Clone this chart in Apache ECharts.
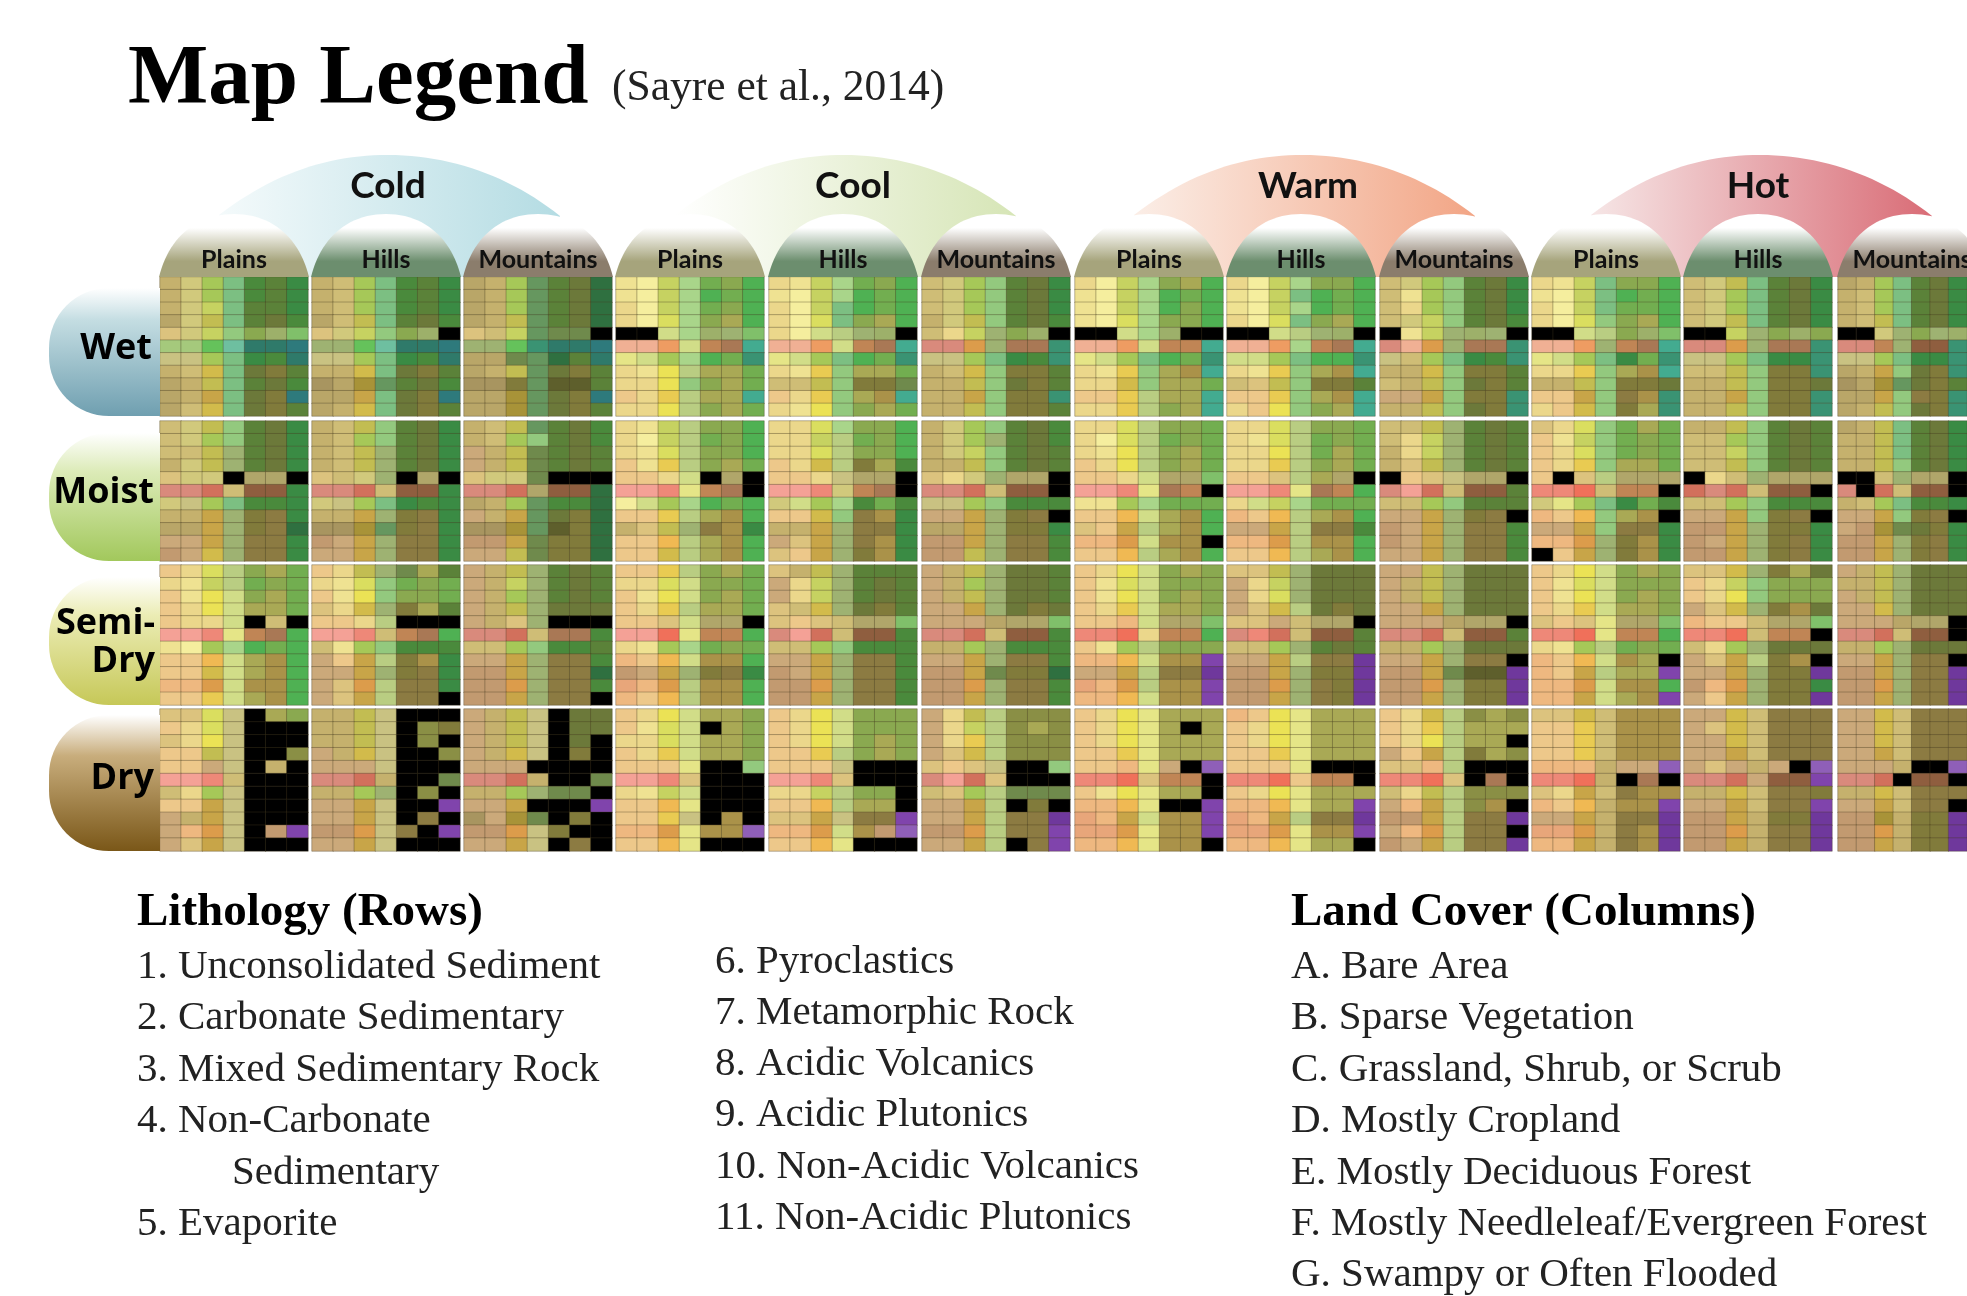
<!DOCTYPE html>
<html lang="en">

<head>
    <meta charset="UTF-8">
    <title>Map Legend</title>
    <style>
        html,
        body {
            margin: 0;
            width: 100%;
            height: 100%;
            background: #fff;
            overflow: hidden;
        }

        #main {
            width: 1967px;
            height: 1296px;
            /* the reference is a soft, upscaled picture */
            filter: blur(0.5px);
        }
    </style>
</head>

<body>
    <div id="main"></div>
    <script src="https://cdn.jsdelivr.net/npm/echarts@6/dist/echarts.min.js"></script>
    <script>
        // axes of the matrix
        const moistureNames = ['Wet', 'Moist', 'Semi-Dry', 'Dry']
        const temperatureNames = ['Cold', 'Cool', 'Warm', 'Hot']
        const landformNames = ['Plains', 'Hills', 'Mountains']
        const lithologyRows = ['1', '2', '3', '4', '5', '6', '7', '8', '9', '10', '11']
        const landCoverCols = ['A', 'B', 'C', 'D', 'E', 'F', 'G']

        // every cell is a colour class, one character each, one string per lithology row
        const wetCells = [
            ['INYhpqs', 'INYhpqs', 'INXhqqs', 'JNZhqrp', 'GNXiv9*', '==~^%%2', 'ooYhsp%', 'IHahrxq', 'JIZhqrp', 'JIdhrx2', 'JHahrxq'],
            ['IHYhpqs', 'IHYhpqs', 'IHYhpqs', 'JHZhqrp', 'GNXiv9#', 'nn~^%%2', 'ooYhsp%', 'IIahrxq', 'KJemqrp', 'JJdhrx2', 'JIahrxq'],
            ['JIYmqr+', 'JIYmqr+', 'JIYmqr+', 'JIZmqr+', 'GHXm!!#', 'nn~0%%2', 'JJ!m+q%', 'JIZmrxq', 'KKxm--q', 'JJemrx2', 'JJemrxq'],
            ['BAXguvt', 'BAXgtut', 'CAXguvt', 'CAWgvwt', '##kg9n*', 'TTUk781', 'lkYgtu0', 'CBVjwwu', 'CCVivwu', 'DCbjww1', 'CCVjvwu'],
            ['CBXguvt', 'BAXgtut', 'CAXhtut', 'CAWhvwt', 'CAkjn9#', 'TTUk781', 'lkYhtu0', 'CBbiwwu', 'HHZixx!', 'DCbiwz1', 'CBVivwu'],
            ['HNYiqrs', 'HNYiqrs', 'HNYiqrs', 'INZiqrp', 'HCXnv9#', 'RRfn880', 'ooYhsp0', 'IHaixxq', 'IIZirxq', 'IIdixx0', 'IIZixxq'],
            ['CAXgvwt', 'BAXgtut', 'BAXgtvt', 'BAWgvvt', '##kg9##', 'TTUk771', 'lkYhtu0', 'CBbiwz1', 'CCaiwwu', 'DDbjww1', 'CCbjvw1'],
            ['CAXgvvt', 'BAXhtut', 'BAXgtut', 'CAWhvwt', '##kjn9#', 'TTUg781', 'kkYhtt0', 'CBbiwz1', 'HGZixxq', 'DDbiwz1', 'CDVivw1'],
            ['HNYiqrs', 'HBYiqrs', 'HCYiqrs', 'HNXiqrp', '#BXn9n#', 'RTfn880', 'oHYhsp0', 'IIaixxq', 'HIZirxq', 'LLdixx0', 'IIZirx0'],
            ['CBXhvvt', 'BAXhtut', 'CAXhuut', 'CAWivwt', '##kjv9*', 'TTUn781', 'lkYhsu0', 'CCbiwz1', 'IIZixxr', 'DDdiyz0', 'CDaixw0'],
            ['HNZhqrs', 'HNYhqrs', 'HNYhqrs', 'HNZhqrs', '##Xnv9v', 'RRfn880', 'ooYhss0', 'HHZixx0', 'IIZixxr', 'IIdixx0', 'IIZixx0'],
            ['JIYhqrs', 'IHYhqrs', 'IHYhqrs', 'IHZhqrs', '##Nnvn9', 'RR7n660', 'ooYhss0', 'JIdirx0', 'KJemrxq', 'JJdiyx0', 'JIZirx0']
        ]
        const moistCells = [
            ['HNZiqrs', 'HNYiqrs', 'HHZnqrs', 'INZnqrs', 'GNN#55#', 'RRSH66s', 'NoYhpps', 'IIdnxys', 'JJdnxy+', 'LLdnyys', 'MLanyys'],
            ['IHZiqrs', 'IHYiqrs', 'IHZnqrs', 'IHZnqrs', 'GHNn#5#', 'RRSH66s', 'NoYhsps', 'IIdnxys', 'KKemxys', 'MLdnyys', 'LLdnyys'],
            ['IHZmqrp', 'IHYiqrp', 'LIZ!qrq', 'LIZ!qrq', 'GNN!###', 'RRS566+', 'JIYmpp+', 'LIdmrx+', 'KKem-x+', 'MMd!xx+', 'LLZ!xx+'],
            ['CBXjvvt', 'CAXjuvt', 'CBWjvvt', 'DBbjvwu', 'DDCk#5#', 'OOPl78#', 'AkYgtut', 'DDbjwzt', 'IGZnyzs', 'DDcjwzt', 'DDajwzt'],
            ['CCWgvvt', 'CCXjuvt', 'CCWjvvt', 'DCajxwp', 'DDCo55#', 'OOPN78#', 'NkYgpup', 'DDaiyzs', 'IIdnyys', 'LGdnyzs', 'GDdnxzs'],
            ['INYiqrp', 'INYnqrp', 'INXiqrq', 'IIZiqrq', 'GCNn55#', 'RRSH66#', 'ooYippp', 'LLdnxy#', 'JJdnxxs', 'MMdnyyp', 'MMZnyyp'],
            ['CCWjvvu', 'CAWjuvu', 'CBVjvwu', 'DCVjvwu', 'DDCk55*', 'OOPl87#', 'BBYguuu', 'DDckwzt', 'GDdjwzt', 'EEfkzz#', 'DDcjwzt'],
            ['CCWjvvu', 'CBWjuvu', 'CCVjuwu', 'CCbjvwu', 'DDGjw5#', 'OOPl87t', 'CkXguuu', 'EDcjwzt', 'LLdjyyp', 'EEfjzzt', 'DDcjwzt'],
            ['HHZnqrq', 'HCXnqrq', 'ICXnqrq', 'IGZnqrq', '#DGo55#', 'ROSH66q', 'HHYiqqq', 'LLdnxy#', 'MLdnyyp', 'MLdnyyp', 'LLdnyyp'],
            ['GCWiuwu', 'DBXiuvu', 'DCWiuvu', 'DCbiwwu', 'D#Gj555', 'PPQH77#', 'NlYhsup', 'EDciwz#', 'LLdiyys', 'EEfnxzs', '#Ddnxzs'],
            ['IIZiqrq', 'HHYiqrq', 'HHXiqrq', 'HHZiqrq', '#CHn555', 'SRSH66#', 'HHYippp', 'LLdixy#', 'MMdnxxs', 'MLdnxys', 'MMdnxys'],
            ['JIZhqrs', 'IIZhqrs', 'IIZhqrs', 'IIZiqrs', '##Hn55#', 'R#SH66#', 'IHYhpps', 'LLdixy#', 'LMe!rxs', 'MMdnxys', 'MMdnxys']
        ]
        const semiDryCells = [
            ['DCWjvwu', 'CBXjuvu', 'DBVkvwu', 'DCVkwwu', 'DCCk#H#', 'OOPl78t', 'BAYgtut', 'DDckwzt', 'DDakwzt', 'EEfkzzt', 'DDbkwzt'],
            ['DCZn!wq', 'CBWiuvu', 'DBVivvu', 'GCanxwq', 'DDCj###', 'OOPH78t', 'HBYippp', 'LDdjxzs', 'LLdnxys', 'LGfjyys', 'LGdjyy#'],
            ['LIZnqrq', 'LIXnqrq', 'LIYnqrq', 'LIZnrrr', 'LIGn###', 'RRSH88p', 'HHYippq', 'LLdnyyp', 'MMdnyy+', 'MMfnyyp', 'MMdnyy#'],
            ['DDbjvwu', 'CCWkvvu', 'DBVkvwu', 'DCbjwwu', 'DDGk55#', 'OOQl77t', 'CBYguvu', 'EDckzzt', 'MLdnxys', 'FEfjzzt', 'EDcjzzt'],
            ['GIZnqqq', 'LCXnqrq', 'LCXnqrq', 'GHanrxq', 'GDGH55*', 'ROSH66p', 'HHYippp', 'LLdnyyp', 'MLdnyyp', 'MMfnyyp', 'MMdnyyp'],
            ['LIZnrrq', 'LIYnrrq', 'LIZnrrq', 'LLdnrxr', 'LLLJ55*', 'RRSH66p', 'IIYnppp', 'LLdnyyp', 'MMd!xx+', 'MMfnyyp', 'MMdnyyp'],
            ['DCVkvwv', 'DBWkvvv', 'DBVkvwv', 'DCbkwwv', 'DDEk55*', 'PPQC77t', 'DBYjvvv', 'EEckzz&', 'LLdjyy3', 'FEfjzz&', 'EEckzz&'],
            ['GGZnrrr', 'LCXnrrr', 'LCWnrrr', 'LGajrxr', 'GGLH55#', 'RPSH66q', 'HHYnqrq', 'LLdjyy3', 'MMdnxx3', 'MMfnyx3', 'MMdnyx3'],
            ['LLZnrrr', 'LIZnrrr', 'LIZnrrr', 'LLdnrrr', 'LLLJ55#', 'RRSH66q', 'IIYnrrr', 'LLdnyy#', 'MMd!--3', 'MMfnxx3', 'MMdnxx3'],
            ['DCVkvwv', 'DBWkvvv', 'DBVkvwv', 'DCbkwwv', 'GDGl55*', 'PPQl77t', 'CBYjuvu', 'EDckzw#', 'EDdjww&', 'EEfkzzt', 'EEdkwz&'],
            ['GGanxwr', 'DCXivvv', 'DCVivvv', 'LGanxzr', 'EDDH55*', 'PPQH77#', 'HCYnrrr', 'LGdjxz#', 'LLdnxx3', 'MEfnxxs', 'LDdnxx3'],
            ['LIZnrrr', 'IIZnrrr', 'LIZnrrr', 'LLanrrr', 'LLLJ55#', 'RRSH66#', 'IIYnrrr', 'LLdnyy#', 'MMdnyy3', 'MMfnyy3', 'MMdnyy3']
        ]
        const dryCells = [
            ['GGWo#wv', 'DCWo###', 'GCVo###', 'DDZo##@', 'DDLo#I#', 'OOPH###', 'HCYo###', 'DDdo###', 'LIdo###', 'LEfo#M&', 'LGdo###'],
            ['IIZo###', 'IIZo#@x', 'IIZo#@#', 'LIao##@', 'LLLo###', 'RRSI##!', 'IIYn#@#', 'LLdo##&', 'LLdo#y#', 'MMfoy#&', 'LLdo###'],
            ['LIZo#rr', 'LIZo#rr', 'LIZo#r#', 'LIao#x#', 'LLL####', 'RRSI##!', 'IIYn!!#', 'LLd###&', 'KLe!#x#', 'MMfox##', 'LLdo#y#'],
            ['DCVkwwv', 'DBWk#wv', 'CCWkwwv', 'DCbkwwv', 'DDDl##i', 'OOPG###', 'CBXk###', 'DDcl###', 'DDbo#z#', 'EEflzz4', 'DDcl###'],
            ['DCVkvvv', 'DCVkvvv', 'DCVkvwv', 'DDbjvwv', 'DDDo###', 'OOPG###', 'CCXjvv#', 'DDcjww#', 'GGdoyy&', 'EEfkzM4', 'DDcl###'],
            ['LCZj@@@', 'LCXj@w@', 'LCbj@@@', 'LGaj@@@', 'GDGo##i', 'ROSG###', 'HGYj!!!', 'LLdj#x#', 'LLdjyy3', 'MMfjyy&', 'LLdj#y&'],
            ['DCVlwww', 'DCVlw#w', 'DCVlwww', 'DDblwww', 'DDElL#4', 'PPQG77#', 'DBVlww#', 'EEcl##&', 'FEdkzz&', 'FFflzz&', 'EEclzz#'],
            ['EDVlwww', 'DCVlwww', 'DCVlwww', 'DDblwww', 'DDDl###', 'PPQD77#', 'DCVlwww', 'EEclww&', 'FEdjyy3', 'FFflzz&', 'EEclww#'],
            ['DCaj@w@', 'DCbjwww', 'DCVjww#', 'LDdjxw@', 'GGEj###', 'PPQG#8#', 'HCZj@@@', 'LEdj@z#', 'MMdjyy3', 'LEfjyy#', 'MLdjyy3'],
            ['GGaHzzz', 'DDbHzzz', 'DDbHzzz', 'DDbHzzz', 'EEEILL4', 'PPQI#8#', 'GCdHyzz', 'EDcIzz&', 'LLdIyy3', 'FFfIyz3', 'EEdIyz3'],
            ['LLaHyyy', 'LGaHyyy', 'LLaHyyy', 'LLdHyyy', 'LGLIL#4', 'RRSL66&', 'IIaHyyx', 'LLdHyy&', 'MMdIxx3', 'MMfIyy3', 'MMdIyy3'],
            ['LLaHyyy', 'LLaHyyy', 'LLaHyyy', 'LLdHyyy', 'LLLI##4', 'RRS#66#', 'IIaHyyy', 'LLdHyy#', 'MMeIxx3', 'MMfIxx3', 'MMdIxx3']
        ]

        // legend text
        const lithologyHeading = 'Lithology (Rows)'
        const lithologyCol1 = ['1. Unconsolidated Sediment', '2. Carbonate Sedimentary', '3. Mixed Sedimentary Rock', '4. Non-Carbonate', 'Sedimentary', '5. Evaporite']
        const lithologyCol2 = ['6. Pyroclastics', '7. Metamorphic Rock', '8. Acidic Volcanics', '9. Acidic Plutonics', '10. Non-Acidic Volcanics', '11. Non-Acidic Plutonics']
        const landCoverHeading = 'Land Cover (Columns)'
        const landCoverItems = ['A. Bare Area', 'B. Sparse Vegetation', 'C. Grassland, Shrub, or Scrub', 'D. Mostly Cropland', 'E. Mostly Deciduous Forest', 'F. Mostly Needleleaf/Evergreen Forest', 'G. Swampy or Often Flooded']

        // colour of each class
        const palette = {
            A: '#f5ee9e', B: '#efe292', C: '#ebd78b', D: '#edc88a', E: '#eeb880', F: '#e8a67a', G: '#dcc37e',
            H: '#cfbd76', I: '#c5b16d', J: '#b9a668', K: '#a89560', L: '#cba97a', M: '#c29a70', N: '#d1c97c',
            O: '#f4a196', P: '#ee8878', Q: '#f0705a', R: '#d98a7c', S: '#d2705c', T: '#f0b094', U: '#ee9c62',
            V: '#ebe255', W: '#dade5f', X: '#c6d261', Y: '#a6c858', Z: '#c2bd52',
            a: '#d2bb4b', b: '#e9cb52', c: '#f0b953', d: '#c8a548', e: '#a89338', f: '#dc9c4b',
            g: '#a9d58a', h: '#7cbf82', i: '#93c97e', j: '#b9cd82', k: '#d1dd88', l: '#e5e587', m: '#66975f', n: '#9eb272', o: '#c9c282',
            p: '#4a8a3c', q: '#5b8239', r: '#6c793a', s: '#3a8b44', t: '#4fb153', u: '#72ae50', v: '#8aa950', w: '#a9a955',
            x: '#817b3b', y: '#8c7b42', z: '#aa9249',
            0: '#3a9373', 1: '#43ab90', 2: '#2e7a7c', 3: '#6f389c', 4: '#8f5fb8', 5: '#b0a66a', 6: '#8f5e3f', 7: '#c08555', 8: '#a97855', 9: '#9db06a',
            '#': '#000000', '+': '#2f7040', '-': '#5e5f2c', '*': '#80c06a', '=': '#a5c97c', '~': '#65c25b', '^': '#6ebfa0',
            '%': '#2f7a6a', '!': '#6f8a4c', '@': '#8a8f45', '&': '#8044ac'
        }
        const classCodes = Object.keys(palette)

        // layout
        const panelLefts = [160, 312, 464, 616, 769, 922, 1075, 1227, 1380, 1532, 1684, 1838]
        const panelTops = [277, 421, 565, 709]
        const panelHeights = [139, 140, 140, 142]
        const panelWidth = 148
        const allCells = [wetCells, moistCells, semiDryCells, dryCells]

        const grids = [], xAxes = [], yAxes = [], series = []
        allCells.forEach(function (moistureRow, m) {
            moistureRow.forEach(function (panel, p) {
                const idx = grids.length
                grids.push({ left: panelLefts[p], top: panelTops[m], width: panelWidth, height: panelHeights[m], containLabel: false })
                xAxes.push({ type: 'category', gridIndex: idx, data: landCoverCols, show: false })
                yAxes.push({ type: 'category', gridIndex: idx, data: lithologyRows, inverse: true, show: false })
                const data = []
                panel.forEach(function (row, r) {
                    row.split('').forEach(function (code, c) {
                        data.push([c, r, classCodes.indexOf(code)])
                    })
                })
                series.push({
                    type: 'heatmap',
                    xAxisIndex: idx,
                    yAxisIndex: idx,
                    data: data,
                    silent: true,
                    progressive: 0,
                    itemStyle: { borderColor: 'rgba(72,62,34,0.36)', borderWidth: 1 }
                })
            })
        })

        const graphics = []
        function grad(x2, y2, stops) {
            return new echarts.graphic.LinearGradient(0, 0, x2, y2, stops.map(function (s) {
                return { offset: s[0], color: s[1] }
            }))
        }
        function addText(text, x, y, font, align, fill) {
            graphics.push({
                type: 'text', z: 20,
                style: { text: text, x: x, y: y, font: font, align: align || 'left', verticalAlign: 'middle', fill: fill || '#000' }
            })
        }
        // sample a cubic curve so it can go into a polygon
        function curve(p0, p1, p2, p3) {
            const pts = []
            for (let i = 0; i <= 24; i++) {
                const t = i / 24, u = 1 - t
                pts.push([
                    u * u * u * p0[0] + 3 * u * u * t * p1[0] + 3 * u * t * t * p2[0] + t * t * t * p3[0],
                    u * u * u * p0[1] + 3 * u * u * t * p1[1] + 3 * u * t * t * p2[1] + t * t * t * p3[1]
                ])
            }
            return pts
        }

        // temperature arcs, behind the domes
        const arcLefts = [160, 616, 1075, 1532]
        const arcColours = [['#f4fafb', '#b4dce3'], ['#ffffff', '#d6e5b6'], ['#fbeee7', '#f2a585'], ['#f6e6e6', '#d96c76']]
        const arcLabelX = [388, 853, 1308, 1758]
        temperatureNames.forEach(function (name, i) {
            const x = arcLefts[i]
            const points = curve([x + 59, 215], [x + 115, 172], [x + 170, 155], [x + 228, 155])
                .concat(curve([x + 228, 155], [x + 290, 155], [x + 350, 176], [x + 400, 216]))
            points.push([x + 385, 277], [x + 75, 277])
            graphics.push({
                type: 'polygon', z: 5,
                shape: { points: points },
                style: { fill: grad(1, 0, [[0, arcColours[i][0]], [1, arcColours[i][1]]]) }
            })
            addText(name, arcLabelX[i], 186, 'bold 37px Lato', 'center', '#111')
        })

        // landform domes
        const domeColours = ['#a6a47c', '#6c8e6e', '#8b7d6c']
        panelLefts.forEach(function (x, p) {
            const kind = p % 3
            const w = panelWidth
            const points = curve([x - 1, 277], [x + 8, 240], [x + 34, 214], [x + w / 2, 214])
                .concat(curve([x + w / 2, 214], [x + w - 34, 214], [x + w - 8, 240], [x + w + 1, 277]))
            graphics.push({
                type: 'polygon', z: 6,
                shape: { points: points },
                style: { fill: grad(0, 1, [[0, '#ffffff'], [0.22, '#ffffff'], [0.75, domeColours[kind]], [1, domeColours[kind]]]) }
            })
            addText(landformNames[kind], x + w / 2, 260, 'bold 25px Lato', 'center', '#111')
        })

        // moisture pills on the left
        const pillTops = [288, 433, 577, 715]
        const pillBottoms = [416, 561, 705, 851]
        const pillStops = [
            [[0, '#ffffff'], [0.25, '#c4dde2'], [1, '#6f9fb0']],
            [[0, '#ffffff'], [0.3, '#dcebb8'], [1, '#a2c85c']],
            [[0, '#ffffff'], [0.3, '#ebecb4'], [1, '#c6c858']],
            [[0, '#ffffff'], [0.3, '#c8ad7c'], [1, '#7a5718']]
        ]
        pillTops.forEach(function (top, i) {
            graphics.push({
                type: 'rect', z: 5,
                shape: { x: 49, y: top, width: 111, height: pillBottoms[i] - top, r: [60, 0, 0, 60] },
                style: { fill: grad(0, 1, pillStops[i]) }
            })
        })
        const labelFont = 'bold 36px "Open Sans"'
        addText(moistureNames[0], 152, 349, labelFont, 'right')
        addText(moistureNames[1], 154, 493, labelFont, 'right')
        addText('Semi-', 155, 624, labelFont, 'right')
        addText('Dry', 155, 662, labelFont, 'right')
        addText(moistureNames[3], 154, 779, labelFont, 'right')

        // title
        addText('Map Legend', 128, 81, 'bold 85px "Liberation Serif"')
        addText('(Sayre et al., 2014)', 612, 89, '43.5px "Liberation Serif"', 'left', '#222')

        // lithology and land cover lists
        const headFont = 'bold 47px "Liberation Serif"'
        const itemFont = '41px "Liberation Serif"'
        addText(lithologyHeading, 137, 913, headFont)
        addText(landCoverHeading, 1291, 913, headFont)
        const col1Y = [967, 1018, 1070, 1121, 1173, 1224]
        const col2Y = [962, 1013, 1064, 1115, 1167, 1218]
        const col3Y = [967, 1018, 1070, 1121, 1173, 1224, 1275]
        lithologyCol1.forEach(function (t, i) {
            addText(t, t === 'Sedimentary' ? 232 : 137, col1Y[i], itemFont, 'left', '#222')
        })
        lithologyCol2.forEach(function (t, i) {
            addText(t, 715, col2Y[i], itemFont, 'left', '#222')
        })
        landCoverItems.forEach(function (t, i) {
            addText(t, 1291, col3Y[i], itemFont, 'left', '#222')
        })

        const myChart = echarts.init(document.getElementById('main'))
        myChart.setOption({
            animation: false,
            backgroundColor: '#fff',
            grid: grids,
            xAxis: xAxes,
            yAxis: yAxes,
            visualMap: {
                type: 'piecewise',
                show: false,
                dimension: 2,
                seriesIndex: series.map(function (s, i) { return i }),
                pieces: classCodes.map(function (code, i) { return { value: i, color: palette[code] } })
            },
            series: series,
            graphic: { elements: graphics }
        })
    </script>
</body>

</html>
